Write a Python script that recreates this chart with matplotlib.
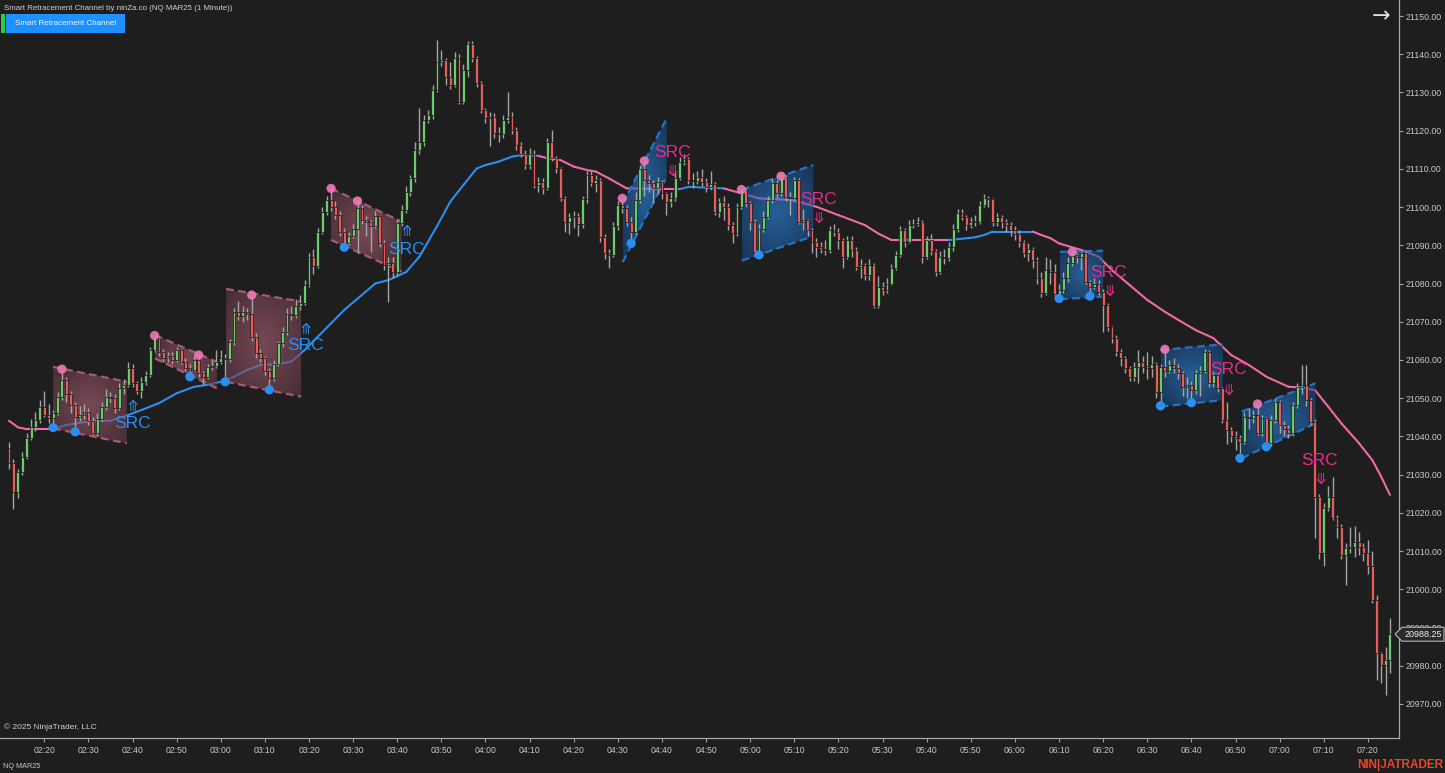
import numpy as np
import matplotlib
matplotlib.use("Agg")
import matplotlib.pyplot as plt
from matplotlib.patches import Polygon, Rectangle
from matplotlib.collections import LineCollection

plt.rcParams['font.family'] = ['Liberation Sans', 'DejaVu Sans']

# ---- NQ MAR25, 1 minute bars, first bar 02:12 ----
first_open = 21037.0
closes = [
    21033.0, 21025.5, 21030.7, 21034.6, 21039.6, 21042.5, 21044.3, 21047.7, 21045.6, 21044.7,
    21046.0, 21050.3, 21054.8, 21051.0, 21048.2, 21045.0, 21045.5, 21046.5, 21044.0, 21041.0,
    21044.5, 21047.6, 21050.3, 21050.0, 21047.5, 21052.7, 21053.5, 21057.8, 21054.0, 21052.0,
    21054.3, 21056.0, 21062.6, 21065.8, 21062.0, 21060.5, 21061.0, 21060.0, 21062.5, 21059.6,
    21058.0, 21057.4, 21060.0, 21056.5, 21055.5, 21058.2, 21058.5, 21059.5, 21060.5, 21060.2,
    21064.8, 21072.6, 21071.4, 21072.5, 21072.0, 21066.0, 21061.7, 21060.5, 21057.0, 21055.2,
    21059.0, 21064.4, 21067.4, 21072.0, 21071.8, 21074.0, 21075.0, 21079.6, 21087.0, 21084.5,
    21093.6, 21098.8, 21101.9, 21100.0, 21098.0, 21093.6, 21090.5, 21092.5, 21094.3, 21099.8,
    21096.5, 21096.0, 21095.0, 21097.6, 21090.6, 21084.8, 21085.5, 21083.0, 21095.8, 21099.2,
    21104.0, 21107.5, 21115.0, 21117.1, 21122.8, 21124.1, 21130.6, 21138.0, 21138.5, 21134.0,
    21132.0, 21139.0, 21127.6, 21136.0, 21142.7, 21139.0, 21132.4, 21125.4, 21123.2, 21123.7,
    21119.3, 21119.0, 21122.8, 21123.5, 21120.2, 21116.2, 21114.0, 21111.0, 21114.0, 21105.8,
    21106.6, 21105.0, 21117.1, 21112.8, 21110.2, 21102.3, 21096.0, 21097.3, 21097.8, 21095.5,
    21102.0, 21108.4, 21106.4, 21107.2, 21092.3, 21088.0, 21087.4, 21095.0, 21100.5, 21099.7,
    21096.2, 21093.6, 21101.8, 21110.0, 21107.0, 21106.2, 21104.9, 21106.6, 21103.6, 21101.4,
    21102.5, 21107.5, 21111.9, 21112.7, 21107.0, 21106.7, 21108.0, 21106.6, 21105.3, 21106.0,
    21098.8, 21101.4, 21100.1, 21095.3, 21093.1, 21100.1, 21104.5, 21101.0, 21096.2, 21088.3,
    21094.4, 21097.5, 21101.9, 21106.2, 21103.6, 21108.0, 21102.7, 21102.3, 21107.0, 21096.2,
    21096.6, 21094.0, 21091.0, 21089.6, 21089.0, 21088.8, 21094.0, 21093.6, 21091.4, 21087.0,
    21091.4, 21088.8, 21084.4, 21084.9, 21082.2, 21084.9, 21074.0, 21079.2, 21078.3, 21080.0,
    21084.0, 21087.5, 21094.0, 21091.0, 21095.3, 21095.7, 21096.2, 21087.0, 21091.4, 21088.4,
    21083.1, 21087.0, 21086.6, 21089.6, 21094.4, 21098.4, 21097.5, 21095.3, 21096.0, 21096.2,
    21100.5, 21102.3, 21102.0, 21096.2, 21097.5, 21096.0, 21095.3, 21094.0, 21093.0, 21091.0,
    21088.0, 21089.0, 21086.2, 21081.4, 21077.6, 21083.5, 21083.0, 21077.2, 21078.3, 21081.4,
    21085.3, 21087.2, 21087.0, 21088.0, 21080.5, 21079.2, 21080.0, 21077.9, 21074.4, 21068.7,
    21065.7, 21062.2, 21060.4, 21057.8, 21055.6, 21058.2, 21059.5, 21058.2, 21058.0, 21059.0,
    21051.7, 21058.2, 21057.0, 21058.7, 21057.8, 21056.5, 21053.0, 21053.4, 21052.1, 21056.5,
    21057.2, 21062.2, 21053.9, 21056.0, 21052.6, 21044.3, 21041.7, 21040.0, 21039.7, 21038.6,
    21045.2, 21044.7, 21045.5, 21041.0, 21044.7, 21038.2, 21044.3, 21049.0, 21043.0, 21042.0,
    21040.8, 21048.2, 21053.0, 21053.5, 21049.5, 21043.9, 21024.2, 21009.4, 21021.2, 21024.2,
    21018.6, 21016.4, 21009.0, 21010.8, 21011.0, 21012.5, 21011.0, 21009.4, 21006.0, 20997.2,
    20983.2, 20980.2, 20981.4, 20988.25,
]
highs = [
    21038.5, 21034.0, 21031.5, 21036.0, 21041.0, 21044.5, 21046.5, 21049.5, 21052.0, 21048.5,
    21047.0, 21051.5, 21057.6, 21055.5, 21052.0, 21049.0, 21048.0, 21048.5, 21047.5, 21045.0,
    21046.0, 21049.0, 21052.5, 21051.5, 21051.0, 21054.0, 21055.0, 21059.5, 21059.0, 21054.5,
    21055.5, 21057.0, 21063.5, 21066.4, 21066.0, 21063.0, 21062.0, 21062.0, 21063.5, 21063.0,
    21060.5, 21059.0, 21061.0, 21061.3, 21057.0, 21059.0, 21060.0, 21062.5, 21062.5, 21061.5,
    21065.5, 21073.5, 21075.5, 21074.0, 21073.5, 21077.0, 21067.0, 21063.0, 21061.0, 21058.0,
    21060.0, 21065.0, 21068.5, 21073.5, 21074.0, 21076.0, 21077.0, 21081.0, 21088.0, 21089.0,
    21094.5, 21100.0, 21103.0, 21104.9, 21101.5, 21099.0, 21094.5, 21093.5, 21095.5, 21101.6,
    21100.5, 21097.6, 21096.5, 21099.0, 21098.0, 21091.5, 21087.0, 21087.0, 21097.0, 21100.5,
    21105.5, 21108.5, 21117.0, 21126.0, 21124.0, 21125.5, 21132.0, 21143.7, 21141.0, 21139.0,
    21138.0, 21140.5, 21140.0, 21137.5, 21143.5, 21143.5, 21139.5, 21133.0, 21126.0, 21125.0,
    21124.5, 21121.0, 21124.0, 21130.2, 21125.0, 21121.0, 21117.0, 21115.0, 21115.5, 21115.0,
    21108.0, 21107.5, 21118.0, 21120.2, 21113.5, 21110.5, 21103.0, 21098.5, 21099.0, 21098.5,
    21103.0, 21109.5, 21109.5, 21108.5, 21107.5, 21093.0, 21089.0, 21096.0, 21101.5, 21102.3,
    21100.5, 21097.5, 21104.0, 21111.0, 21112.1, 21108.5, 21107.0, 21108.0, 21107.0, 21104.0,
    21104.0, 21109.0, 21113.0, 21114.0, 21113.0, 21109.0, 21109.5, 21110.0, 21107.5, 21109.5,
    21106.5, 21102.5, 21103.0, 21101.0, 21096.0, 21101.0, 21104.6, 21105.0, 21101.5, 21097.0,
    21095.5, 21099.0, 21103.0, 21107.5, 21107.0, 21108.3, 21108.5, 21104.0, 21108.0, 21107.5,
    21099.5, 21097.0, 21094.5, 21092.0, 21091.0, 21091.5, 21095.0, 21095.5, 21094.5, 21092.0,
    21092.5, 21092.5, 21089.5, 21086.5, 21085.5, 21086.5, 21085.5, 21082.0, 21080.5, 21081.5,
    21085.0, 21088.5, 21095.0, 21094.5, 21096.5, 21097.0, 21097.5, 21096.5, 21092.5, 21093.0,
    21089.0, 21088.5, 21089.0, 21091.0, 21095.5, 21099.5, 21099.5, 21098.0, 21097.5, 21098.0,
    21101.5, 21103.5, 21103.0, 21102.5, 21098.5, 21098.0, 21097.0, 21096.0, 21095.0, 21094.0,
    21091.5, 21090.5, 21089.5, 21087.0, 21083.0, 21087.0, 21086.5, 21085.0, 21080.0, 21083.0,
    21087.0, 21088.3, 21088.0, 21088.5, 21088.5, 21081.0, 21081.5, 21081.0, 21078.5, 21075.0,
    21069.0, 21066.5, 21063.0, 21061.0, 21058.5, 21059.5, 21062.5, 21061.0, 21062.0, 21061.0,
    21059.5, 21059.0, 21062.8, 21060.0, 21060.5, 21059.0, 21057.0, 21055.5, 21054.5, 21057.5,
    21058.5, 21063.0, 21062.5, 21057.0, 21056.5, 21053.0, 21049.0, 21042.5, 21041.5, 21040.5,
    21046.5, 21047.5, 21047.0, 21048.5, 21045.5, 21045.0, 21045.5, 21050.0, 21049.5, 21044.0,
    21043.0, 21049.0, 21054.0, 21058.7, 21058.7, 21050.0, 21044.5, 21025.0, 21022.5, 21027.0,
    21029.5, 21019.5, 21017.0, 21012.0, 21016.3, 21016.5, 21015.0, 21012.0, 21013.0, 21010.0,
    20998.5, 20983.5, 20985.0, 20992.4,
]
lows = [
    21031.5, 21021.0, 21024.0, 21030.0, 21034.0, 21039.0, 21041.5, 21043.5, 21045.0, 21043.5,
    21042.3, 21045.5, 21049.5, 21049.0, 21046.0, 21041.2, 21044.0, 21044.5, 21043.0, 21040.5,
    21040.0, 21044.0, 21047.0, 21049.0, 21046.0, 21047.0, 21051.0, 21053.0, 21053.0, 21051.0,
    21050.0, 21053.5, 21055.5, 21062.0, 21061.0, 21059.5, 21059.5, 21059.0, 21059.5, 21059.0,
    21057.0, 21055.6, 21057.0, 21055.5, 21053.5, 21055.0, 21057.5, 21058.0, 21059.0, 21054.3,
    21059.5, 21064.0, 21070.5, 21070.0, 21070.5, 21065.0, 21060.5, 21059.5, 21056.0, 21052.2,
    21054.5, 21058.5, 21063.5, 21066.5, 21070.5, 21071.0, 21073.0, 21074.5, 21079.0, 21082.5,
    21084.0, 21093.0, 21098.0, 21099.0, 21097.0, 21092.5, 21089.5, 21090.0, 21092.0, 21088.0,
    21095.5, 21092.5, 21088.3, 21094.5, 21089.5, 21083.5, 21075.3, 21081.5, 21082.0, 21095.0,
    21098.5, 21103.0, 21106.5, 21114.0, 21116.0, 21122.0, 21123.0, 21130.0, 21137.0, 21132.0,
    21131.0, 21131.5, 21127.0, 21127.0, 21134.0, 21138.0, 21131.5, 21124.5, 21122.0, 21116.0,
    21118.0, 21117.0, 21118.0, 21122.0, 21119.0, 21115.0, 21113.0, 21110.0, 21110.0, 21105.0,
    21104.0, 21103.5, 21104.5, 21112.0, 21109.0, 21101.5, 21093.5, 21093.0, 21094.5, 21092.5,
    21094.5, 21101.0, 21105.5, 21104.0, 21091.0, 21086.5, 21084.0, 21087.0, 21094.0, 21098.5,
    21095.0, 21090.5, 21093.0, 21101.0, 21103.0, 21104.0, 21101.0, 21103.5, 21102.0, 21098.0,
    21100.0, 21101.5, 21107.0, 21111.0, 21106.0, 21105.0, 21106.0, 21105.5, 21104.0, 21104.5,
    21098.0, 21097.5, 21096.5, 21094.0, 21090.5, 21092.5, 21099.5, 21100.0, 21094.0, 21087.5,
    21087.5, 21093.5, 21097.0, 21101.0, 21102.5, 21103.0, 21101.5, 21098.0, 21101.5, 21095.5,
    21094.0, 21092.5, 21088.0, 21087.0, 21088.0, 21087.5, 21088.0, 21092.5, 21089.0, 21084.0,
    21086.5, 21087.0, 21083.5, 21081.5, 21081.0, 21081.0, 21073.5, 21073.5, 21077.0, 21077.5,
    21079.5, 21083.5, 21087.0, 21089.5, 21090.5, 21094.5, 21095.0, 21085.5, 21086.5, 21087.5,
    21082.0, 21082.5, 21085.0, 21086.0, 21088.5, 21093.5, 21096.5, 21094.0, 21094.5, 21095.0,
    21095.5, 21100.0, 21100.0, 21095.0, 21095.0, 21094.5, 21093.5, 21092.5, 21091.5, 21089.5,
    21087.0, 21086.0, 21084.0, 21080.0, 21076.5, 21077.0, 21080.0, 21076.5, 21076.1, 21077.5,
    21080.5, 21084.5, 21085.5, 21083.5, 21080.0, 21076.7, 21078.5, 21077.0, 21067.4, 21067.5,
    21064.5, 21061.0, 21058.5, 21056.5, 21054.5, 21054.5, 21054.0, 21056.5, 21055.0, 21055.5,
    21050.0, 21048.0, 21055.5, 21056.5, 21056.5, 21055.0, 21050.5, 21050.0, 21048.8, 21051.0,
    21050.5, 21056.5, 21053.0, 21053.0, 21051.5, 21043.5, 21038.0, 21038.5, 21036.5, 21034.3,
    21038.0, 21042.0, 21043.5, 21040.5, 21040.0, 21037.3, 21037.5, 21043.5, 21041.0, 21040.0,
    21039.5, 21040.0, 21047.5, 21051.0, 21048.0, 21043.0, 21013.5, 21008.0, 21006.0, 21020.5,
    21018.0, 21013.5, 21008.0, 21001.0, 21009.5, 21008.5, 21009.0, 21007.5, 21004.0, 20996.5,
    20976.3, 20975.4, 20972.4, 20978.0,
]

time_labels = ["02:20", "02:30", "02:40", "02:50", "03:00", "03:10", "03:20", "03:30",
               "03:40", "03:50", "04:00", "04:10", "04:20", "04:30", "04:40", "04:50",
               "05:00", "05:10", "05:20", "05:30", "05:40", "05:50", "06:00", "06:10",
               "06:20", "06:30", "06:40", "06:50", "07:00", "07:10", "07:20"]
first_label_bar = 8   # 02:20 is the 9th bar

# trailing line (bar index, price) and the bar ranges where it is blue
ma_idx = [0, 2, 4, 10, 13, 18, 23, 27, 30, 34, 38, 42, 45, 48, 51, 54, 57, 61, 64, 67,
          70, 73, 76, 83, 86, 90, 93, 97, 100, 103, 106, 108, 111, 114, 116, 120, 122, 125, 128, 131,
          133, 136, 138, 140, 146, 152, 154, 158, 162, 166, 170, 173, 177, 180, 183, 188, 194, 197, 200, 213,
          215, 219, 221, 223, 232, 234, 236, 238, 243, 247, 250, 254, 258, 262, 265, 269, 273, 277, 281, 285,
          290, 293, 296, 299, 302, 306, 309, 311, 313]
ma_val = [21044.1, 21042.4, 21041.9, 21041.9, 21043.0, 21043.9, 21044.1, 21045.6, 21046.9, 21048.7,
          21051.3, 21053.0, 21053.5, 21054.3, 21055.6, 21057.4, 21058.7, 21058.9, 21059.6, 21062.6,
          21066.1, 21069.6, 21073.1, 21080.0, 21080.9, 21083.0, 21087.0, 21095.0, 21101.4, 21105.8,
          21110.1, 21111.0, 21111.9, 21113.2, 21113.6, 21113.4, 21112.8, 21112.3, 21110.6, 21109.7,
          21109.3, 21107.5, 21106.2, 21104.9, 21104.8, 21104.7, 21105.3, 21105.1, 21104.9, 21103.6,
          21102.3, 21102.1, 21101.9, 21101.0, 21100.1, 21097.9, 21095.3, 21093.1, 21091.4, 21091.4,
          21091.6, 21092.1, 21092.7, 21093.6, 21093.6, 21092.7, 21091.9, 21090.5, 21088.8, 21087.0,
          21083.5, 21079.6, 21075.7, 21072.6, 21070.5, 21067.8, 21065.7, 21061.3, 21058.7, 21055.6,
          21053.0, 21052.8, 21052.1, 21047.8, 21043.4, 21038.2, 21033.8, 21029.5, 21024.7]
ma_blue_spans = [(10, 120), (152, 162), (213, 232)]

# retracement channels: bar range, upper / lower line end prices
ch_start = [10.0, 33.1, 49.2, 73.0, 139.1, 166.1, 238.2, 261.0, 279.4]
ch_end = [26.7, 47.1, 66.2, 89.0, 149.1, 182.3, 248.0, 275.1, 296.1]
ch_top0 = [21058.2, 21066.5, 21078.6, 21104.9, 21100.9, 21104.6, 21088.3, 21062.6, 21046.5]
ch_top1 = [21054.3, 21059.5, 21075.3, 21096.2, 21123.3, 21111.0, 21088.6, 21064.1, 21053.9]
ch_bot0 = [21042.1, 21060.4, 21054.3, 21091.4, 21085.6, 21086.0, 21075.9, 21047.8, 21034.3]
ch_bot1 = [21038.2, 21052.6, 21050.4, 21083.1, 21108.0, 21092.4, 21076.6, 21049.5, 21043.4]
ch_bull = [True, True, True, True, False, False, False, False, False]

# swing points
pink_i = [12, 33, 43, 55, 73, 79, 139, 144, 166, 175, 241, 262, 283]
pink_p = [21057.6, 21066.4, 21061.3, 21077.0, 21104.9, 21101.6, 21102.3, 21112.1, 21104.6,
          21108.1, 21088.3, 21062.8, 21048.5]
blue_i = [10, 15, 41, 49, 59, 76, 141, 170, 238, 245, 261, 268, 279, 285]
blue_p = [21042.3, 21041.2, 21055.6, 21054.3, 21052.2, 21089.5, 21090.5, 21087.5, 21076.1,
          21076.7, 21048.0, 21048.8, 21034.3, 21037.3]

# SRC signals
sig_i = [28.0, 67.1, 90.1, 150.3, 183.4, 249.3, 276.3, 297.1]
sig_text_p = [21043.5, 21063.7, 21089.0, 21114.4, 21101.9, 21083.0, 21057.4, 21033.6]
sig_arrow_p = [21047.7, 21068.1, 21093.5, 21109.2, 21096.9, 21077.8, 21052.1, 21028.6]
sig_bull = [True, True, True, False, False, False, False, False]

BG = '#1e1e1e'
GREEN = '#6ccb6e'
RED = '#e85c5c'
MA_BLUE = '#2b8ff0'
MA_PINK = '#f06aa8'
SRC_BLUE = '#2391f5'
SRC_PINK = '#ec2a8c'
W, H = 1445, 773


def fig_xy(x, y):
    return x / W, 1 - y / H


def grad_img(c_in, c_out, alpha, n=64):
    yy, xx = np.mgrid[-1:1:n * 1j, -1:1:n * 1j]
    r = np.clip(np.hypot(xx, yy) / 1.3, 0, 1)[..., None]
    rgb = (np.array(c_in) * (1 - r) + np.array(c_out) * r) / 255.0
    return np.dstack([rgb, np.full((n, n), alpha)])


fig = plt.figure(figsize=(W / 100, H / 100), dpi=100, facecolor=BG)
ax = fig.add_axes([0, 1 - 738 / H, 1399 / W, 738 / H])
ax.set_facecolor(BG)

# trailing line
mi = np.array(ma_idx, dtype=float)
mv = np.array(ma_val)
segs = [[(mi[k], mv[k]), (mi[k + 1], mv[k + 1])] for k in range(len(mi) - 1)]
mids = (mi[:-1] + mi[1:]) / 2
seg_cols = [MA_BLUE if any(a <= m <= b for a, b in ma_blue_spans) else MA_PINK for m in mids]
ax.add_collection(LineCollection(segs, colors=seg_cols, linewidths=1.5, zorder=2,
                                 capstyle='round', joinstyle='round'))

# channels
for s, e, t0, t1, b0, b1, bull in zip(ch_start, ch_end, ch_top0, ch_top1, ch_bot0, ch_bot1, ch_bull):
    poly = Polygon([(s, t0), (e, t1), (e, b1), (s, b0)], closed=True,
                   facecolor='none', edgecolor='none', transform=ax.transData)
    ax.add_patch(poly)
    if bull:
        img = grad_img((175, 100, 120), (100, 58, 70), 0.62)
        dash_col = '#a85a70'
    else:
        img = grad_img((45, 140, 232), (22, 72, 130), 0.6)
        dash_col = '#2373c6'
    im = ax.imshow(img, extent=(s, e, min(b0, b1), max(t0, t1)), origin='lower',
                   aspect='auto', interpolation='bilinear', zorder=3)
    im.set_clip_path(poly)
    ax.plot([s, e], [t0, t1], color=dash_col, lw=1.6, ls=(0, (3.5, 2)), zorder=3.2)
    ax.plot([s, e], [b0, b1], color=dash_col, lw=1.6, ls=(0, (3.5, 2)), zorder=3.2)

# candles
c = np.array(closes)
o = np.array([first_open] + closes[:-1])
idx = np.arange(len(c))
up = c >= o
ax.vlines(idx, lows, highs, color='#a4a4a4', lw=1.0, zorder=4)
body_lo = np.minimum(o, c)
body_h = np.maximum(np.abs(c - o), 0.35)
ax.bar(idx, body_h, bottom=body_lo, width=0.66, color=np.where(up, GREEN, RED),
       edgecolor='#141414', linewidth=0.5, zorder=5)

# swing dots
ax.scatter(pink_i, pink_p, s=44, color='#f078b6', alpha=0.9, edgecolors='none', zorder=6)
ax.scatter(blue_i, blue_p, s=44, color='#2b8ff0', edgecolors='none', zorder=6)

# signals
for si, tp, ap, bull in zip(sig_i, sig_text_p, sig_arrow_p, sig_bull):
    col = SRC_BLUE if bull else SRC_PINK
    ax.text(si, tp, 'SRC', color=col, fontsize=12.5, ha='center', va='center', zorder=7)
    ax.text(si, ap, '\u290A' if bull else '\u290B', color=col, fontsize=10.5,
            ha='center', va='center', zorder=7, family=['DejaVu Sans'])

# axes
ax.set_xlim(-2.04, 315.05)
ax.set_ylim(20961.09, 21154.19)
ax.yaxis.tick_right()
ax.set_yticks(np.arange(20970, 21151, 10))
ax.set_yticklabels(['%.2f' % v for v in np.arange(20970, 21151, 10)])
ax.set_xticks([first_label_bar + 10 * k for k in range(len(time_labels))])
ax.set_xticklabels(time_labels)
ax.tick_params(axis='y', direction='out', length=3, width=0.8, color='#a0a0a0',
               labelcolor='#c8c8c8', labelsize=6.3, pad=2)
ax.tick_params(axis='x', direction='out', length=3, width=0.8, color='#a0a0a0',
               labelcolor='#c8c8c8', labelsize=6.2, pad=3)
for side in ['top', 'left']:
    ax.spines[side].set_visible(False)
for side in ['right', 'bottom']:
    ax.spines[side].set_color('#a8a8a8')
    ax.spines[side].set_linewidth(0.9)

# last price marker (sits over the 20990 tick label, as in the platform)
fig.canvas.draw()
py = H - ax.transData.transform((0, closes[-1]))[1]
tag = Polygon([fig_xy(1395, py), fig_xy(1402, py - 7), fig_xy(1444, py - 7),
               fig_xy(1444, py + 7), fig_xy(1402, py + 7)], closed=True,
              transform=fig.transFigure, facecolor='#2a2a2a', edgecolor='#b8b8b8', lw=0.8, zorder=10)
fig.add_artist(tag)
fig.text(*fig_xy(1423, py), '%.2f' % closes[-1], color='#f0f0f0', fontsize=6.5,
         ha='center', va='center', zorder=11)

# header and footer
fig.text(*fig_xy(4, 8), 'Smart Retracement Channel by ninZa.co (NQ MAR25 (1 Minute))',
         color='#d0d0d0', fontsize=5.7, ha='left', va='center')
fig.add_artist(Rectangle(fig_xy(1, 33), 4 / W, 19 / H, transform=fig.transFigure,
                         facecolor='#2ecc40', edgecolor='none'))
fig.add_artist(Rectangle(fig_xy(6, 33), 119 / W, 19 / H, transform=fig.transFigure,
                         facecolor='#1e90ff', edgecolor='none'))
fig.text(*fig_xy(65.5, 23.5), 'Smart Retracement Channel', color='#f4f8ff', fontsize=5.8,
         ha='center', va='center')
fig.text(*fig_xy(1381, 16), '\u2192', color='#e0e0e0', fontsize=16, ha='center', va='center',
         family=['DejaVu Sans'])
fig.text(*fig_xy(4, 727), '\u00a9 2025 NinjaTrader, LLC', color='#d0d0d0', fontsize=6,
         ha='left', va='center')
fig.text(*fig_xy(3, 766), 'NQ MAR25', color='#c8c8c8', fontsize=5.2, ha='left', va='center')
fig.text(*fig_xy(1443, 765), 'NIN|JATRADER', color='#e8472b', fontsize=8.5, fontweight='bold',
         ha='right', va='center')

fig.savefig('out.png', dpi=100, facecolor=BG)
